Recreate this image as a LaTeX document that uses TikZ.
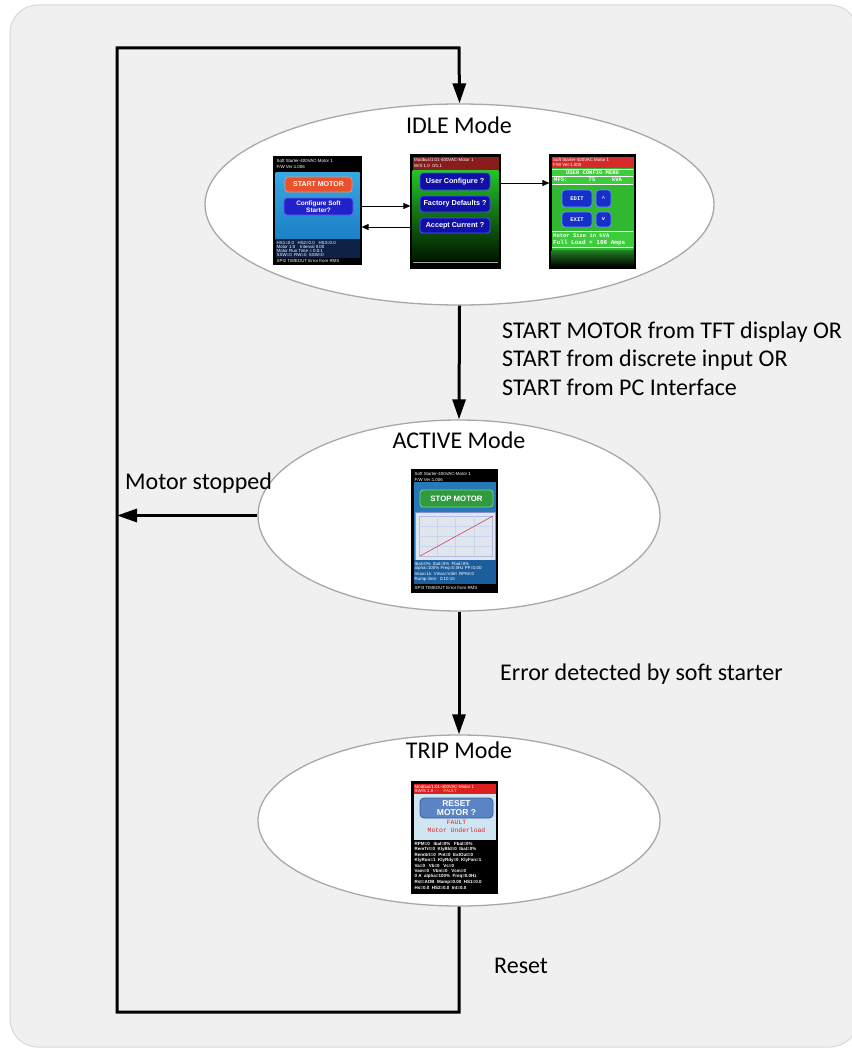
\documentclass[tikz,border=0pt]{standalone}
\usepackage{fontspec}
\setmainfont{Carlito}
\newfontfamily\scr{Liberation Sans}
\newfontfamily\scrmono{Liberation Mono}
\usetikzlibrary{arrows.meta,shapes.geometric}
\definecolor{panelbg}{HTML}{F0F0F0}
\definecolor{panelline}{HTML}{D8D8D8}
\definecolor{ellline}{HTML}{A8A8A8}
\definecolor{s1top}{HTML}{38A8E2}
\definecolor{s1bot}{HTML}{1C80C6}
\definecolor{s1low}{HTML}{0E2248}
\definecolor{startred}{HTML}{EA502C}
\definecolor{startredl}{HTML}{F49070}
\definecolor{cfgblue}{HTML}{2222CC}
\definecolor{cfgbluel}{HTML}{6060F0}
\definecolor{darkred}{HTML}{8A1C1C}
\definecolor{grtop}{HTML}{24C624}
\definecolor{grmid}{HTML}{0C8A0C}
\definecolor{grbot}{HTML}{001800}
\definecolor{navybtn}{HTML}{1010A8}
\definecolor{navybtnl}{HTML}{5050FF}
\definecolor{hdrred}{HTML}{D42A2A}
\definecolor{s3green}{HTML}{30B830}
\definecolor{s3band}{HTML}{3CCC3C}
\definecolor{s3btn}{HTML}{1530C8}
\definecolor{s3btnl}{HTML}{7090FF}
\definecolor{s4blue}{HTML}{2678B8}
\definecolor{s4low}{HTML}{1B5E9E}
\definecolor{stopgreen}{HTML}{2E9C3E}
\definecolor{stopgreenl}{HTML}{80D08A}
\definecolor{graphbg}{HTML}{DFE6EE}
\definecolor{graphline}{HTML}{8090D0}
\definecolor{plotred}{HTML}{D04060}
\definecolor{trpred}{HTML}{DC2020}
\definecolor{trplight}{HTML}{CFE6F2}
\definecolor{resetblue}{HTML}{5B84C4}
\definecolor{resetbluel}{HTML}{3A5A9A}
\definecolor{faultred}{HTML}{E02020}
\definecolor{faultyellow}{HTML}{F0E040}
\begin{document}
\begin{tikzpicture}[x=1pt,y=-1pt,
  panel/.style={draw=panelline, fill=panelbg, line width=1pt, rounded corners=28pt},
  modeell/.style={ellipse, draw=ellline, line width=1.3pt, fill=white, inner sep=0pt},
  modelbl/.style={font=\fontsize{24}{28}\selectfont, anchor=base, inner sep=0pt},
  lbl/.style={font=\fontsize{24}{28}\selectfont, anchor=base west, inner sep=0pt},
  mainarrow/.style={line width=3pt, line join=miter, -{Triangle[length=20pt,width=13pt]}},
  thinarrow/.style={line width=0.9pt, -{Triangle[length=7pt,width=6pt]}},
  scrframe/.style={draw=black, fill=black, line width=1.2pt, inner sep=0pt},
  tiny/.style={font=\scr\fontsize{4.4}{4.5}\selectfont, text=white, inner sep=0pt, anchor=west},
  btn/.style={rounded corners=3pt, line width=0.8pt, inner sep=0pt, text=white, align=center},
  monob/.style={font=\scrmono\bfseries\fontsize{5.5}{6}\selectfont, text=white, inner sep=0pt}
]
\useasboundingbox (0,0) rectangle (851,1049);
\fill[white] (0,0) rectangle (851,1049);
\draw[panel] (10,5) rectangle (858,1047);

% ellipses
\node[modeell, minimum width=509pt, minimum height=201pt] (idle) at (459.5,204.5) {};
\node[modeell, minimum width=402pt, minimum height=191pt] (active) at (459,515.5) {};
\node[modeell, minimum width=402pt, minimum height=171pt] (trip) at (459,820.5) {};

\node[modelbl] (idlelbl) at (459,133) {IDLE Mode};
\node[modelbl] (activelbl) at (459,448) {ACTIVE Mode};
\node[modelbl] (triplbl) at (459,758) {TRIP Mode};

% ---------- Screen 1 (idle main)
\node[scrframe, minimum width=87pt, minimum height=107pt] (s1) at (317.5,210.5) {};
\node[tiny] (s1h1) at (276.5,161) {Soft Starter-400VAC-Motor 1};
\node[tiny] (s1h2) at (276.5,166.5) {F/W Ver:1.006};
\shade[top color=s1top, bottom color=s1bot] (275.5,172) rectangle (359.5,239);
\fill[s1low] (275.5,239) rectangle (359.5,258);
\node[btn, fill=startred, draw=startredl, minimum width=67pt, minimum height=15pt,
  font=\scr\bfseries\fontsize{7}{8}\selectfont] (s1start) at (318.5,184.5) {START MOTOR};
\node[btn, fill=cfgblue, draw=cfgbluel, minimum width=69pt, minimum height=17pt,
  font=\scr\bfseries\fontsize{6.4}{7.2}\selectfont] (s1cfg) at (318.5,206.5) {Configure Soft\\Starter?};
\node[tiny] (s1l1) at (276.5,242.5) {HS1=0.0 \ \ HS2=0.0 \ \ HS3=0.0};
\node[tiny] (s1l2) at (276.5,246.8) {Motor 1:0 \ \ \ Interval 0:00};
\node[tiny] (s1l3) at (276.5,251.1) {Motor Run Time = 0:0:1};
\node[tiny] (s1l4) at (276.5,255.4) {SSW=0 \ RW=0 \ SSW=0};
\node[tiny] (s1l5) at (276.5,260.5) {SPI2 TIMEOUT Error from RMS};

% ---------- Screen 2 (configure)
\node[scrframe, minimum width=89pt, minimum height=113pt] (s2) at (455.5,211.5) {};
\fill[darkred] (412.5,156.5) rectangle (498.5,170);
\node[tiny] (s2h1) at (414,160) {Modbus/1:01-400VAC-Motor 1};
\node[tiny] (s2h2) at (414,165.5) {W/S 1.0 \ 0/1.1};
\shade[top color=grtop, middle color=grmid, bottom color=grbot] (412.5,170) rectangle (498.5,260);
\draw[gray!70, line width=0.5pt] (413,262) -- (498,262);
\node[btn, fill=navybtn, draw=navybtnl, minimum width=70pt, minimum height=17pt,
  font=\scr\bfseries\fontsize{7.2}{8}\selectfont] (s2b1) at (455,181.5) {User Configure ?};
\node[btn, fill=navybtn, draw=navybtnl, minimum width=70pt, minimum height=16pt,
  font=\scr\bfseries\fontsize{7.2}{8}\selectfont] (s2b2) at (455,204) {Factory Defaults ?};
\node[btn, fill=navybtn, draw=navybtnl, minimum width=70pt, minimum height=15pt,
  font=\scr\bfseries\fontsize{7.2}{8}\selectfont] (s2b3) at (455,225.5) {Accept Current ?};

% ---------- Screen 3 (user config menu)
\node[scrframe, minimum width=85pt, minimum height=113pt] (s3) at (592.5,211.5) {};
\fill[hdrred] (551.5,156.5) rectangle (633.5,168);
\node[tiny] (s3h1) at (553,160) {Soft Starter-400VAC Motor 1};
\node[tiny] (s3h2) at (553,165) {F/W Ver:1.000};
\fill[s3green] (551.5,168) rectangle (633.5,250);
\shade[top color=s3green!70!black, bottom color=black] (551.5,250) rectangle (633.5,266.5);
\fill[s3band] (551.5,169) rectangle (633.5,184);
\draw[white, line width=0.5pt] (552,169) -- (633,169) (552,176) -- (633,176) (552,184) -- (633,184);
\node[monob] (s3t1) at (592.5,172.6) {USER CONFIG MENU};
\node[monob, anchor=west] (s3t2) at (554,180) {MFS:};
\node[monob] (s3t3) at (592,180) {75};
\node[monob] (s3t4) at (617,180) {kVA};
\node[btn, fill=s3btn, draw=s3btnl, minimum width=30pt, minimum height=17pt,
  font=\scrmono\bfseries\fontsize{5.5}{6}\selectfont] (s3edit) at (577,198.5) {EDIT};
\node[btn, fill=s3btn, draw=s3btnl, minimum width=15pt, minimum height=17pt,
  font=\scrmono\bfseries\fontsize{5.5}{6}\selectfont] (s3up) at (603.5,198.5) {\^{}};
\node[btn, fill=s3btn, draw=s3btnl, minimum width=30pt, minimum height=15pt,
  font=\scrmono\bfseries\fontsize{5.5}{6}\selectfont] (s3exit) at (577,219.5) {EXIT};
\node[btn, fill=s3btn, draw=s3btnl, minimum width=15pt, minimum height=15pt,
  font=\scrmono\bfseries\fontsize{5.5}{6}\selectfont] (s3dn) at (603.5,219.5) {v};
\fill[s3band] (551.5,231) rectangle (633.5,247);
\draw[white, line width=0.5pt] (552,231) -- (633,231) (552,247) -- (633,247);
\node[monob, anchor=west] (s3t5) at (553,235.5) {Motor Size in kVA};
\node[monob, anchor=west, font=\scrmono\bfseries\fontsize{6}{6}\selectfont] (s3t6) at (553,242.5) {Full Load = 108 Amps};

% ---------- Screen 4 (active)
\node[scrframe, minimum width=85pt, minimum height=122pt] (s4) at (454.5,531) {};
\node[tiny] (s4h1) at (414.5,474) {Soft Starter-400VAC-Motor 1};
\node[tiny] (s4h2) at (414.5,479.5) {F/W Ver:1.006};
\fill[s4blue] (413.5,482) rectangle (495.5,584);
\node[btn, fill=stopgreen, draw=stopgreenl, minimum width=73pt, minimum height=17pt,
  font=\scr\bfseries\fontsize{7.8}{8}\selectfont] (s4stop) at (456.5,498.5) {STOP MOTOR};
\fill[graphbg] (415,512) rectangle (495,560);
\draw[graphline, line width=0.5pt] (415,512) rectangle (495,560);
\draw[graphline!60, line width=0.4pt] (419,516) rectangle (492,556);
\draw[graphline!40, line width=0.3pt] (437,516) -- (437,556) (455,516) -- (455,556) (474,516) -- (474,556)
  (419,526) -- (492,526) (419,536) -- (492,536) (419,546) -- (492,546);
\draw[plotred, line width=0.6pt] (420,556) -- (493,516);
\fill[s4low] (413.5,560) rectangle (495.5,584);
\node[tiny] (s4l1) at (414.5,563.5) {Ibal=0\% \ Ibal=0\% \ Fbal=0\%};
\node[tiny] (s4l2) at (414.5,568.8) {alpha=100\% Freq=0.0Hz PF=0.00};
\node[tiny] (s4l3) at (414.5,574.1) {Imax=Lk \ Vmax=Vdet \ RPM=0};
\node[tiny] (s4l4) at (414.5,579.4) {Ramp time: \ 0:10:15};
\node[tiny] (s4l5) at (414.5,587.5) {SPI3 TIMEOUT Error from RMS};

% ---------- Screen 5 (trip)
\node[scrframe, minimum width=85pt, minimum height=111pt] (s5) at (454.5,837.5) {};
\fill[trpred] (413.5,783.5) rectangle (495.5,794);
\node[tiny] (s5h1) at (414.5,786.8) {Modbus/1:01-400VAC-Motor 1};
\node[tiny] (s5h2) at (414.5,791.3) {SW/S 1.0 - - \ \ \ \textcolor{faultyellow}{FAULT}};
\fill[trplight] (413.5,794) rectangle (495.5,840);
\node[btn, fill=resetblue, draw=resetbluel, minimum width=73pt, minimum height=20pt, rounded corners=4pt,
  font=\scr\bfseries\fontsize{8.5}{9}\selectfont] (s5reset) at (456.5,808) {RESET\\MOTOR ?};
\node[inner sep=0pt, text=faultred, font=\scrmono\fontsize{6.4}{7}\selectfont] (s5f1) at (456.5,822.5) {FAULT};
\node[inner sep=0pt, text=faultred, font=\scrmono\fontsize{6.4}{7}\selectfont] (s5f2) at (456.5,830) {Motor Underload};
\begin{scope}[every node/.style={tiny, font=\scr\bfseries\fontsize{4.5}{4.5}\selectfont}]
\node (s5l1) at (414.5,843.5) {RPM=0 \ \ Ibal=0\% \ \ Fbal=0\%};
\node (s5l2) at (414.5,849) {RemTrl=0 \ KlyBld=0 \ Ibal=0\%};
\node (s5l3) at (414.5,854.5) {RemSrt=0 \ Pnt=0 \ ExtOut=0};
\node (s5l4) at (414.5,860) {KlyRun=1 \ KlyRdy=0 \ KlyFan=1};
\node (s5l5) at (414.5,865.5) {Va=0 \ \ Vb=0 \ \ Vc=0};
\node (s5l6) at (414.5,871) {Vam=0 \ \ Vbm=0 \ \ Vcm=0};
\node (s5l7) at (414.5,876.5) {0 A \ alpha=100\% \ Freq=0.0Hz};
\node (s5l8) at (414.5,882) {Rst=AOB \ Mamp=0.00 \ HS1=0.0};
\node (s5l9) at (414.5,887.5) {Hs=0.0 \ HS2=0.0 \ Int=0.0};
\end{scope}

% thin arrows inside IDLE
\coordinate (ya) at (0,206);
\coordinate (yb) at (0,227);
\coordinate (yc) at (0,183);
\draw[thinarrow] (s1.east |- ya) -- (s2.west |- ya);
\draw[thinarrow] (s2.west |- yb) -- (s1.east |- yb);
\draw[thinarrow] (s2.east |- yc) -- (s3.west |- yc);

% main connectors
\coordinate (bl) at (117,1012);
\coordinate (tr) at (459,48);
\coordinate (ms) at (117,515.5);
\draw[mainarrow] (idle.south) -- (active.north);
\draw[mainarrow] (active.south) -- (trip.north);
\draw[mainarrow] (active.west) -- (ms);
\draw[mainarrow] (trip.south) |- (bl) |- (tr) -- (idle.north);

% labels
\node[lbl] (startA) at (502,338) {START MOTOR from TFT display OR};
\node[lbl] (startB) at (502,366.5) {START from discrete input OR};
\node[lbl] (startC) at (502,395) {START from PC Interface};
\node[lbl] (stopped) at (125,489) {Motor stopped};
\node[lbl] (err) at (500,680) {Error detected by soft starter};
\node[lbl] (reset) at (494,973) {Reset};
\end{tikzpicture}
\end{document}
